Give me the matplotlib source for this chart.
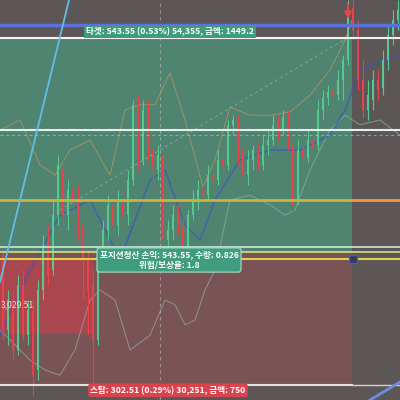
import matplotlib.pyplot as plt

plt.rcParams['font.family'] = ['Noto Sans CJK KR', 'DejaVu Sans']

# 캔들 데이터 (가격 단위, 0~100 스케일)
opens = [36.2, 17.5, 25, 12.5, 28.8, 16.2, 22.5, 7.5, 27.5, 38.8,
         32.5, 46.2, 57.5, 46.2, 52.5, 50, 43.8, 35, 28.8, 15,
         33.8, 42.5, 48.8, 43.8, 50, 46.2, 55, 72.5, 60, 72.5,
         62.5, 57.5, 61.2, 40, 42.5, 46.2, 43.8, 38, 46.2, 50,
         52.5, 51.2, 56.2, 55, 60, 58.8, 68.8, 70, 62.5, 56.2,
         60, 62.5, 58.8, 63.8, 65, 68.8, 67.5, 70.8, 63.8, 50,
         62.5, 60.5, 65, 63.8, 72.5, 75.5, 77, 76.2, 80, 85,
         98, 92.5, 80, 72.5, 75, 80, 78, 85, 91.2, 95]
closes = [17.5, 25, 12.5, 28.8, 16.2, 22.5, 6.2, 27.5, 38.8, 31.2,
          46.2, 58.8, 46.2, 52.5, 50, 43.8, 35, 27.5, 15, 33.8,
          42.5, 48.8, 43.8, 50, 46.2, 55, 73.8, 60, 72.5, 62.5,
          57.5, 61.2, 40, 42.5, 46.2, 43.8, 38.8, 46.2, 50, 52.5,
          51.2, 56.2, 55, 60, 58.8, 68.8, 70, 60, 56.2, 60,
          62.5, 58.8, 63.8, 65, 68.8, 67.5, 70.8, 63.8, 48.8, 62.5,
          60.5, 65, 63, 72.5, 75.5, 77, 76.2, 80, 85, 98.8,
          92.5, 80, 72.5, 76.2, 80, 77.5, 85, 91.2, 95, 97.5]
highs = [38.8, 27.5, 27.5, 31.2, 32.5, 25, 25, 30, 41.2, 43.8,
         50, 61.2, 60, 55, 56.2, 53.8, 46.2, 37.5, 32.5, 36.2,
         45, 51.2, 51.2, 52.5, 53.8, 57.5, 75, 76.2, 75, 75,
         65, 63.8, 62.5, 45, 48.8, 48.8, 46.2, 47.5, 52.5, 55,
         55, 58.8, 58.8, 62.5, 62.5, 70, 71.2, 71.2, 63.8, 62.5,
         63.8, 63.8, 66.2, 67.5, 71.2, 71.2, 72.5, 72.5, 65, 65,
         65, 67.5, 66.2, 75, 77.5, 78.8, 78.8, 82.5, 86.2, 100,
         100, 95, 85, 80, 82.5, 82.5, 87.5, 93.8, 97.5, 100]
lows = [15, 13.8, 10, 11.2, 15, 13.8, 1.2, 5, 25, 28.8,
        31.2, 43.8, 43.8, 42.5, 41.2, 40, 25, 16.2, 1.2, 13.8,
        32.5, 40, 41.2, 41.2, 42.5, 43.8, 53.8, 57.5, 58.8, 60,
        52.5, 55, 38.8, 37.5, 40, 41.2, 37.5, 37, 45, 47.5,
        48.8, 50, 52.5, 53.8, 56.2, 57.5, 66.2, 58.8, 55, 53.8,
        57.5, 57.5, 57.5, 61.2, 63.8, 65, 66.2, 62.5, 46.2, 48.8,
        58.8, 59.5, 61.2, 62.5, 70, 73.8, 75, 75, 75, 83.8,
        90, 77.5, 70.5, 70, 72.5, 75, 76.2, 82.5, 88.8, 92.5]

# 볼린저 밴드 / 이동평균 (캔들 인덱스, 가격)
upper_x = [-0.6, 3.4, 7.4, 10.4, 13.4, 17.4, 21.4, 24.4, 27.4, 30.4, 33.4, 36.4, 40, 42.4, 45.4, 49.4, 53.4, 57.4, 61.4, 65.4, 68.4, 69.8]
upper_y = [67.5, 70, 58.8, 56.2, 62.5, 65, 56.2, 72.5, 73.8, 73.8, 81.8, 70, 53.2, 60, 73.2, 71.2, 71.2, 72, 76.2, 82.5, 90, 95]
lower_x = [-0.6, 2.4, 5.4, 8.4, 11.4, 14.4, 17.4, 19.4, 22.4, 25.4, 29.4, 32.4, 34.4, 36.4, 38.4, 40.4, 42.4, 45.4, 49.4, 53.4, 56.4, 58.4, 61.4, 65.4, 68.4, 71.4, 75.4, 79.4]
lower_y = [17.5, 13.8, 10, 7.5, 6.2, 12.5, 25, 27.5, 25, 12.5, 16.2, 25, 23.8, 18.8, 20, 27.5, 32.5, 50, 51.2, 48.8, 46.2, 47.5, 57.5, 67.5, 71.2, 68.8, 70, 66.2]
ma_x = [-0.6, 5.4, 11.4, 17.4, 23.4, 29.4, 32.4, 36.4, 39.4, 42.4, 47.4, 53.4, 59.4, 65.4, 68.4, 71.4, 75.4, 79.4]
ma_y = [16.2, 32.5, 46.2, 50, 35, 55, 57.5, 43.8, 40, 50, 60, 62.5, 62.5, 66.2, 72.5, 82.5, 84.5, 86.2]
trend_x = [11.4, 68.8]
trend_y = [47.5, 90.5]
cyan_x = [-0.6, 13.2]
cyan_y = [29.5, 100]
blue2_x = [73.4, 79.4]
blue2_y = [0, 4.5]

# 포지션 레벨
target = 90.5
top_blue = 93.75
mid_white = 67.5
mid_dash = 66.2
yellow = 50
entry_hi = 38.2
entry = 37.0
entry_lo = 35.3
stop = 3.75
zone_end = 69.8

fig = plt.figure(figsize=(4, 4), dpi=100)
fig.patch.set_facecolor('#5d5657')
ax = fig.add_axes([0, 0, 1, 1])
ax.set_xlim(-0.6, 79.4)
ax.set_ylim(0, 100)
ax.axis('off')

# 수익/손실 영역
ax.fill_between([-0.6, zone_end], entry, target, color='#4e8470', lw=0, zorder=0)
ax.fill_between([-0.6, zone_end], stop, entry, color='#7a5356', lw=0, zorder=0)
ax.fill_between([-0.6, 18], 16.5, entry_lo, color='#b8434c', alpha=0.75, lw=0, zorder=0.5)

ax.axvline(31.4, color='#b8b8b8', lw=0.8, ls=(0, (3, 3)), alpha=0.6, zorder=1)

# 밴드
ax.plot(upper_x, upper_y, color='#c09868', lw=0.7, alpha=0.7, zorder=1)
ax.plot(lower_x, lower_y, color='#93b2a8', lw=0.7, alpha=0.7, zorder=1)
ax.plot(trend_x, trend_y, color='#9fbfb2', lw=0.7, ls=(0, (3, 3)), alpha=0.6, zorder=1)
ax.plot(ma_x, ma_y, color='#3d50d0', lw=1.2, alpha=0.6, zorder=1)

# 캔들
x = list(range(len(opens)))
colors = ['#55c990' if c >= o else '#e8424b' for o, c in zip(opens, closes)]
ax.vlines(x, lows, highs, colors=colors, lw=0.8, zorder=2)
ax.bar(x, [c - o for o, c in zip(opens, closes)], bottom=opens, width=0.45,
       color=colors, lw=0, zorder=2)

# 수평선
ax.axhline(top_blue, color='#5a70dc', lw=2.5, zorder=3)
ax.axhline(target, color='#f2f2f2', lw=1.5, zorder=3)
ax.axhline(mid_white, color='#e6efec', lw=1.5, zorder=3)
ax.axhline(mid_dash, color='#c8c8c8', lw=0.7, ls=(0, (3, 3)), alpha=0.6, zorder=3)
ax.plot([-0.6, zone_end], [yellow, yellow], color='#c9b43c', lw=2, zorder=3)
ax.plot([zone_end, 79.4], [yellow, yellow], color='#e89a3c', lw=2, zorder=3)
ax.axhline(entry_hi, color='#cde8d6', lw=1.2, zorder=3)
ax.axhline(entry, color='#d6e07a', lw=1.2, zorder=3)
ax.axhline(entry_lo, color='#e0d050', lw=1.5, zorder=3)
ax.plot([-0.6, zone_end], [stop, stop], color='#e8dede', lw=1.5, zorder=3)
ax.plot([zone_end, 79.4], [stop, stop], color='#d8d0d0', lw=1.0, zorder=3)

ax.plot(cyan_x, cyan_y, color='#63bde8', lw=1.3, zorder=3)
ax.plot(blue2_x, blue2_y, color='#6a8fe0', lw=2, zorder=3)

ax.plot([70], [entry_lo], marker='s', ms=6, color='#353a55', mec='#4a5cc0', zorder=4)
ax.annotate('', xy=(69, 94.5), xytext=(69, 99.5),
            arrowprops=dict(arrowstyle='-|>', color='#e04848', lw=1.5), zorder=4)

# 라벨
ax.text(16.6, 92.1, '타겟: 543.55 (0.53%) 54,355, 금액: 1449.2', fontsize=6.2,
        color='white', fontweight='bold', va='center', ha='left', zorder=5,
        bbox=dict(boxstyle='square,pad=0.2', fc='#3e9c7d', ec='none'))
ax.text(33.2, 35.0, '포지션청산 손익: 543.55, 수량: 0.826\n위험/보상율: 1.8', fontsize=6.2,
        color='white', fontweight='bold', va='center', ha='center', linespacing=1.15,
        zorder=5, bbox=dict(boxstyle='round,pad=0.3', fc='#3f9c7e', ec='#a8e0c8', lw=0.8))
ax.text(33.0, 2.4, '스탑: 302.51 (0.29%) 30,251, 금액: 750', fontsize=6.2,
        color='white', fontweight='bold', va='center', ha='center', zorder=5,
        bbox=dict(boxstyle='round,pad=0.25', fc='#d8434d', ec='none'))
ax.text(-0.5, 23.8, '3,029.51', fontsize=6.2, color='#f2dede', va='center', ha='left', zorder=5)

plt.savefig('out.png', dpi=100, facecolor=fig.get_facecolor())
